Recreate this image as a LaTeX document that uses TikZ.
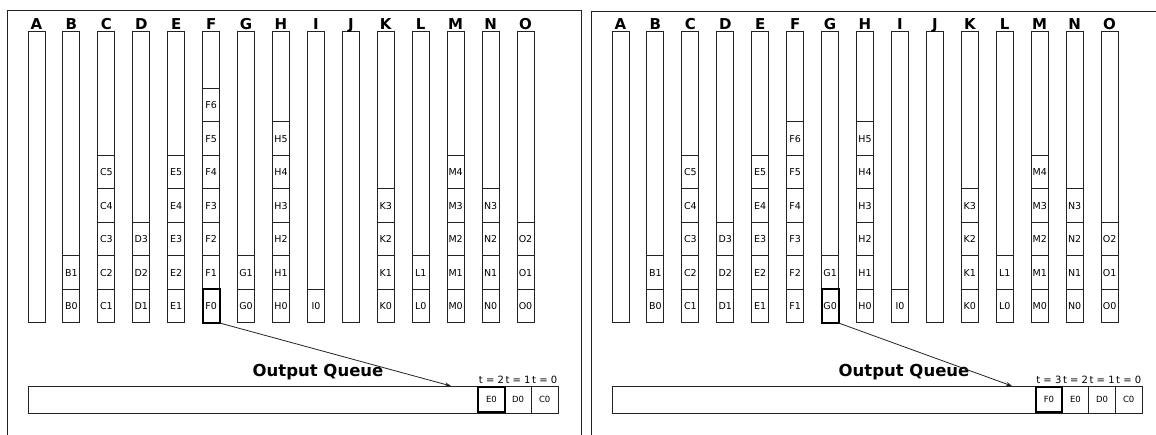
\documentclass[tikz,border=0pt]{standalone}
\usepackage{fontspec}
\setmainfont{DejaVu Sans}
\usetikzlibrary{arrows.meta}
\definecolor{linecol}{RGB}{35,35,35}
\newcommand\mkcells[6]{%
  \foreach \k in {1,...,#6}{%
    \pgfmathtruncatemacro\lab{#5+\k-1}%
    \node[cellbox] (#1-#4\lab) at ({28+34.93*#3+#2},{323-33.5*(\k-1)}) {#4\lab};
  }%
}
\tikzset{
  colbox/.style={draw=linecol, line width=1pt, minimum width=17pt, minimum height=291pt, inner sep=0pt, outer sep=0pt, anchor=north west},
  cellbox/.style={draw=linecol, line width=1pt, minimum width=17pt, minimum height=33.5pt, inner sep=0pt, outer sep=0pt, anchor=south west, font=\fontsize{9.5}{9.5}\selectfont},
  collabel/.style={anchor=base, inner sep=0pt, font=\bfseries\fontsize{15}{15}\selectfont},
  hilite/.style={draw=black, line width=2pt},
  queuebox/.style={draw=linecol, line width=1pt, minimum width=529.5pt, minimum height=27pt, inner sep=0pt, outer sep=0pt, anchor=north west},
  qcell/.style={draw=linecol, line width=1pt, minimum width=26.6pt, minimum height=27pt, inner sep=0pt, outer sep=0pt, anchor=north east, font=\fontsize{8.5}{8.5}\selectfont},
  tlabel/.style={anchor=base, inner sep=0pt, font=\fontsize{10}{10}\selectfont},
  qtitle/.style={font=\bfseries\fontsize{16.5}{16.5}\selectfont, inner sep=0pt},
  frame/.style={draw=linecol, line width=1pt},
  feed/.style={draw=linecol, line width=0.8pt, -{Stealth[length=6pt,width=4pt]}}
}
\begin{document}
\begin{tikzpicture}[x=1pt,y=-1pt]
\useasboundingbox[fill=white] (0,0) rectangle (1156,435);
% panel frames
\draw[frame] (7,437) -- (7,11) -- (581,11) -- (581,437);
\draw[frame] (591,437) -- (591,12) -- (1158,12);
% columns and headers
\foreach \p/\dx in {L/0,R/584}{
  \foreach \c [count=\i from 0] in {A,B,C,D,E,F,G,H,I,J,K,L,M,N,O}{
    \node[colbox] (\p-col-\c) at ({28+34.93*\i+\dx},32) {};
    \node[collabel] (\p-lab-\c) at ({28+34.93*\i+\dx+8.5},29.5) {\c};
  }
}
% left panel cells
\mkcells{L}{0}{1}{B}{0}{2}
\mkcells{L}{0}{2}{C}{1}{5}
\mkcells{L}{0}{3}{D}{1}{3}
\mkcells{L}{0}{4}{E}{1}{5}
\mkcells{L}{0}{5}{F}{0}{7}
\mkcells{L}{0}{6}{G}{0}{2}
\mkcells{L}{0}{7}{H}{0}{6}
\mkcells{L}{0}{8}{I}{0}{1}
\mkcells{L}{0}{10}{K}{0}{4}
\mkcells{L}{0}{11}{L}{0}{2}
\mkcells{L}{0}{12}{M}{0}{5}
\mkcells{L}{0}{13}{N}{0}{4}
\mkcells{L}{0}{14}{O}{0}{3}
% right panel cells
\mkcells{R}{584}{1}{B}{0}{2}
\mkcells{R}{584}{2}{C}{1}{5}
\mkcells{R}{584}{3}{D}{1}{3}
\mkcells{R}{584}{4}{E}{1}{5}
\mkcells{R}{584}{5}{F}{1}{6}
\mkcells{R}{584}{6}{G}{0}{2}
\mkcells{R}{584}{7}{H}{0}{6}
\mkcells{R}{584}{8}{I}{0}{1}
\mkcells{R}{584}{10}{K}{0}{4}
\mkcells{R}{584}{11}{L}{0}{2}
\mkcells{R}{584}{12}{M}{0}{5}
\mkcells{R}{584}{13}{N}{0}{4}
\mkcells{R}{584}{14}{O}{0}{3}
% highlighted heads
\draw[hilite] (L-F0.south west) rectangle (L-F0.north east);
\draw[hilite] (R-G0.south west) rectangle (R-G0.north east);
% output queues
\node[qtitle] (L-title) at (318,372) {Output Queue};
\node[qtitle] (R-title) at (904,372) {Output Queue};
\node[queuebox] (L-queue) at (28.5,386) {};
\node[qcell] (L-q-C0) at (558,386) {C0};
\node[qcell] (L-q-D0) at (L-q-C0.north west) {D0};
\node[qcell] (L-q-E0) at (L-q-D0.north west) {E0};
\draw[hilite] ([yshift=1pt]L-q-E0.south west) rectangle ([yshift=-1pt]L-q-E0.north east);
\node[tlabel] (L-t0) at ([yshift=2.5pt]L-q-C0.north) {t = 0};
\node[tlabel] (L-t1) at ([yshift=2.5pt]L-q-D0.north) {t = 1};
\node[tlabel] (L-t2) at ([yshift=2.5pt]L-q-E0.north) {t = 2};
\node[queuebox] (R-queue) at (612.5,386) {};
\node[qcell] (R-q-C0) at (1142,386) {C0};
\node[qcell] (R-q-D0) at (R-q-C0.north west) {D0};
\node[qcell] (R-q-E0) at (R-q-D0.north west) {E0};
\node[qcell] (R-q-F0) at (R-q-E0.north west) {F0};
\draw[hilite] ([yshift=1pt]R-q-F0.south west) rectangle ([yshift=-1pt]R-q-F0.north east);
\node[tlabel] (R-t0) at ([yshift=2.5pt]R-q-C0.north) {t = 0};
\node[tlabel] (R-t1) at ([yshift=2.5pt]R-q-D0.north) {t = 1};
\node[tlabel] (R-t2) at ([yshift=2.5pt]R-q-E0.north) {t = 2};
\node[tlabel] (R-t3) at ([yshift=2.5pt]R-q-F0.north) {t = 3};
% arrows
\coordinate (L-tip) at (451,386);
\coordinate (R-tip) at (1012,386);
\draw[feed] (L-F0.south east) -- (L-tip);
\draw[feed] (R-G0.south east) -- (R-tip);
\end{tikzpicture}
\end{document}
